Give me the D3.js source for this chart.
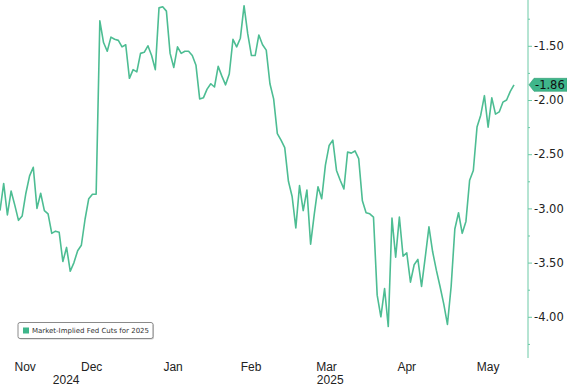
<!DOCTYPE html>
<html>
<head>
<meta charset="utf-8">
<script src="https://cdn.jsdelivr.net/npm/d3@7"></script>
<style>
    html, body { margin: 0; padding: 0; background: #fff; }
    svg { display: block; }
</style>
</head>
<body>
<svg id="chart"></svg>
<script>
// Market-implied Fed cuts for 2025, one value per trading day (late Oct 2024 -> May 2025)
const values = [
    -3.02, -2.77, -3.06, -2.84, -2.97, -3.11, -3.07, -2.86, -2.70, -2.62,
    -3.00, -2.86, -3.02, -3.05, -3.23, -3.21, -3.22, -3.49, -3.36, -3.58,
    -3.50, -3.39, -3.34, -3.10, -2.91, -2.87, -2.87, -1.27, -1.47, -1.55,
    -1.42, -1.44, -1.45, -1.51, -1.49, -1.80, -1.72, -1.74, -1.57, -1.56,
    -1.50, -1.59, -1.72, -1.15, -1.14, -1.18, -1.57, -1.70, -1.51, -1.57,
    -1.55, -1.55, -1.59, -1.68, -1.99, -1.98, -1.90, -1.85, -1.88, -1.69,
    -1.78, -1.86, -1.76, -1.44, -1.51, -1.43, -1.13, -1.39, -1.59, -1.59,
    -1.40, -1.49, -1.54, -1.85, -1.99, -2.31, -2.37, -2.44, -2.75, -2.89,
    -3.18, -2.79, -3.02, -2.83, -3.33, -3.05, -2.80, -2.91, -2.60, -2.42,
    -2.37, -2.65, -2.74, -2.82, -2.48, -2.49, -2.47, -2.54, -2.93, -3.04,
    -3.05, -3.08, -3.80, -4.00, -3.74, -4.09, -3.09, -3.45, -3.08, -3.44,
    -3.41, -3.68, -3.52, -3.47, -3.72, -3.45, -3.17, -3.40, -3.57, -3.72,
    -3.88, -4.07, -3.72, -3.19, -3.04, -3.23, -3.12, -2.74, -2.65, -2.25,
    -2.14, -1.96, -2.25, -1.98, -2.13, -2.11, -2.02, -2.00, -1.92, -1.86
];

const seriesName = 'Market-Implied Fed Cuts for 2025';

// month labels sit mid-month, positions in trading-day index
const monthLabels = ['Nov', 'Dec', 'Jan', 'Feb', 'Mar', 'Apr', 'May'];
const monthPos = [6.8, 24.8, 46.8, 67.9, 88.3, 110.0, 132.0];
const yearLabels = ['2024', '2025'];
const yearPos = [17.9, 89.3];

const yMajorTicks = [-1.5, -2.0, -2.5, -3.0, -3.5, -4.0];
const yMinorTicks = [-1.25, -1.75, -2.25, -2.75, -3.25, -3.75, -4.25];

const width = 567;
const height = 386;

const lineColor = '#4dbd93';
const axisColor = '#6cc9a6';
const textColor = '#222';

const dataLeft = 0;
const dataRight = 514;
const axisX = 528;
const plotTop = 0;
const plotBottom = 358;

const fmt = d3.formatLocale({
    decimal: '.', thousands: ',', grouping: [3], currency: ['$', ''], minus: '-'
}).format('.2f');

const x = d3.scaleLinear()
    .domain([0, values.length - 1])
    .range([dataLeft, dataRight]);

const y = d3.scaleLinear()
    .domain([-4.38, -1.0775])
    .range([plotBottom, plotTop]);

const svg = d3.select('#chart')
    .attr('width', width)
    .attr('height', height);

// y axis on the right
const gAxisY = svg.append('g')
    .attr('transform', `translate(${axisX},0)`);

gAxisY.call(d3.axisRight(y).tickValues(yMajorTicks).tickSize(4).tickPadding(2).tickFormat(fmt));
gAxisY.select('.domain').remove();
gAxisY.append('line')
    .attr('x1', 0).attr('x2', 0)
    .attr('y1', plotTop).attr('y2', plotBottom)
    .attr('stroke', axisColor)
    .attr('stroke-width', 1);
gAxisY.selectAll('.tick line')
    .attr('stroke', axisColor);
gAxisY.selectAll('.tick text')
    .attr('fill', textColor)
    .attr('font-family', "'DejaVu Sans', Verdana, sans-serif")
    .attr('font-size', 11.5);

gAxisY.selectAll('.minor')
    .data(yMinorTicks)
    .enter()
    .append('line')
    .attr('class', 'minor')
    .attr('x1', 0).attr('x2', 2)
    .attr('y1', d => y(d) + 0.5).attr('y2', d => y(d) + 0.5)
    .attr('stroke', axisColor);

// the series
const line = d3.line()
    .x((d, i) => x(i))
    .y(d => y(d));

svg.append('path')
    .datum(values)
    .attr('fill', 'none')
    .attr('stroke', lineColor)
    .attr('stroke-width', 1.6)
    .attr('stroke-linejoin', 'round')
    .attr('d', line);

// last value tag
const lastValue = values[values.length - 1];
const ly = y(lastValue);
const gTag = svg.append('g');
gTag.append('path')
    .attr('d', `M${axisX + 1},${ly} L${axisX + 6},${ly - 6.5} L${width},${ly - 6.5} L${width},${ly + 6.5} L${axisX + 6},${ly + 6.5} Z`)
    .attr('fill', '#3fb68b')
    .attr('stroke', '#2f9a72')
    .attr('stroke-width', 0.6);
gTag.append('text')
    .attr('x', axisX + 7)
    .attr('y', ly)
    .attr('dy', '0.36em')
    .attr('fill', '#111')
    .attr('font-family', "'DejaVu Sans', Verdana, sans-serif")
    .attr('font-size', 11.5)
    .text(fmt(lastValue));

// x labels (months, years)
const gAxisX = svg.append('g');
gAxisX.selectAll('.month')
    .data(monthLabels)
    .enter()
    .append('text')
    .attr('class', 'month')
    .attr('x', (d, i) => x(monthPos[i]))
    .attr('y', 370.5)
    .attr('text-anchor', 'middle')
    .attr('fill', textColor)
    .attr('font-family', "Tahoma, 'Liberation Sans', Arial, sans-serif")
    .attr('font-size', 12)
    .text(d => d);

gAxisX.selectAll('.year')
    .data(yearLabels)
    .enter()
    .append('text')
    .attr('class', 'year')
    .attr('x', (d, i) => x(yearPos[i]))
    .attr('y', 383.5)
    .attr('text-anchor', 'middle')
    .attr('fill', textColor)
    .attr('font-family', "Tahoma, 'Liberation Sans', Arial, sans-serif")
    .attr('font-size', 12)
    .text(d => d);

// legend
const legend = svg.append('g')
    .attr('transform', 'translate(18,322.5)');
legend.append('rect')
    .attr('x', 1).attr('y', 1)
    .attr('width', 135).attr('height', 16)
    .attr('rx', 2)
    .attr('fill', '#ccc');
legend.append('rect')
    .attr('x', 0).attr('y', 0)
    .attr('width', 135).attr('height', 16)
    .attr('rx', 2)
    .attr('fill', '#fff')
    .attr('stroke', '#8a8a8a')
    .attr('stroke-width', 1);
legend.append('rect')
    .attr('x', 5).attr('y', 5)
    .attr('width', 6).attr('height', 6)
    .attr('fill', '#3fb68b');
legend.append('text')
    .attr('x', 14)
    .attr('y', 8)
    .attr('dy', '0.35em')
    .attr('fill', '#333')
    .attr('font-family', "'DejaVu Sans', Verdana, sans-serif")
    .attr('font-size', 7)
    .text(seriesName);
</script>
</body>
</html>
